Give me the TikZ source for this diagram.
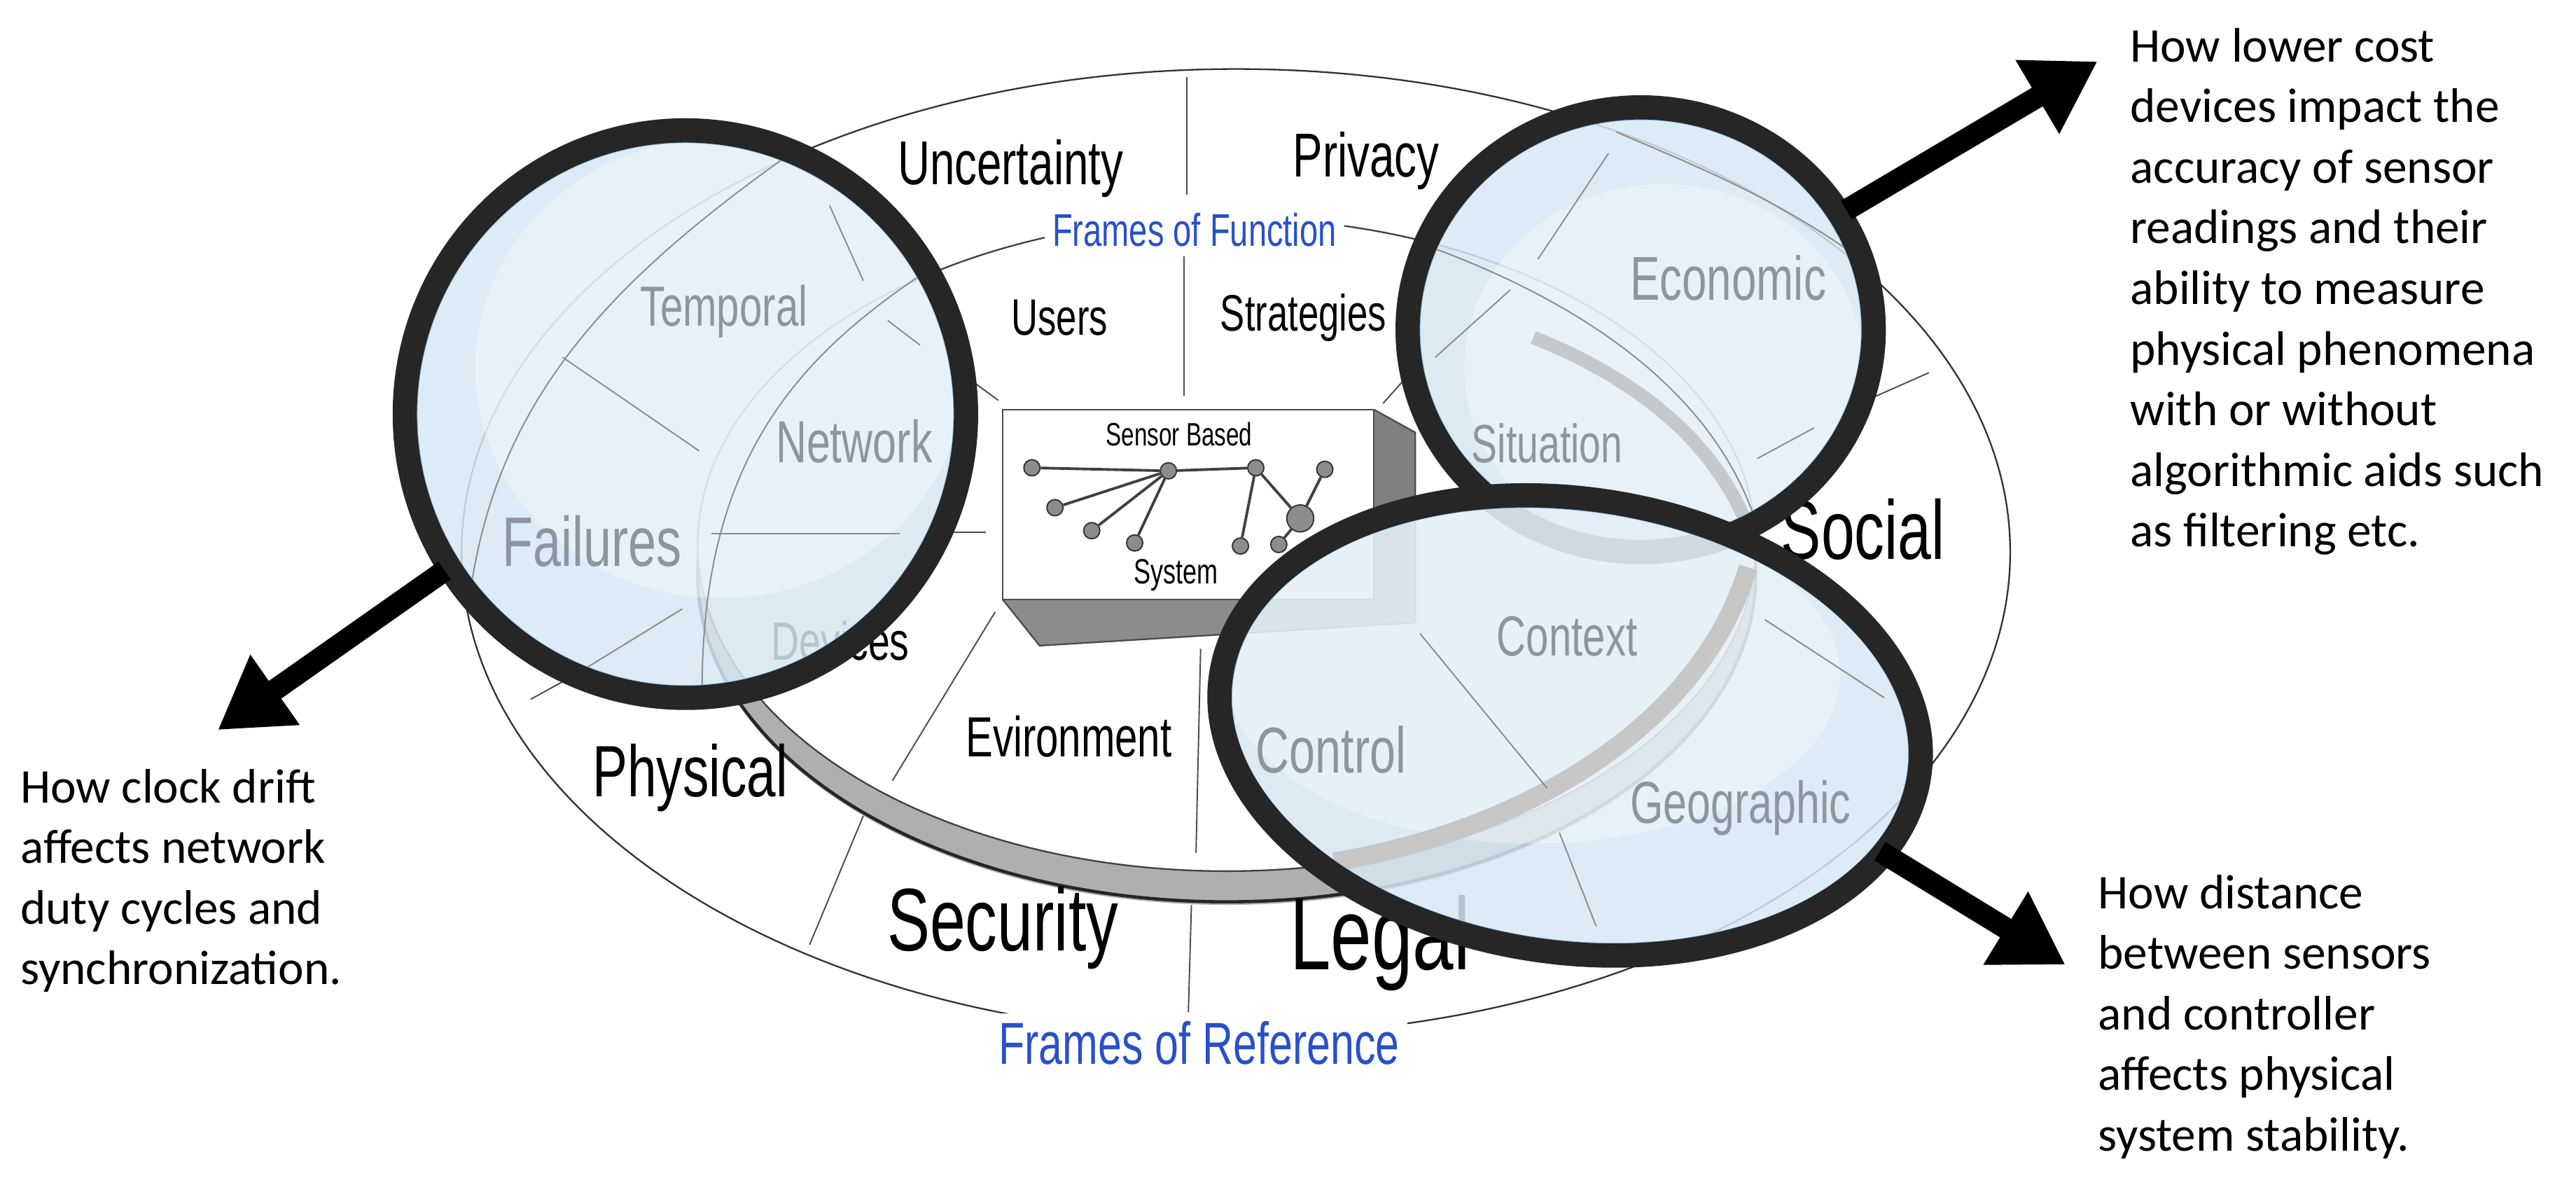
\documentclass[tikz,border=0pt]{standalone}
\usepackage{fontspec}
\usetikzlibrary{arrows.meta}
\setmainfont{Carlito}
\newfontfamily\agency{Liberation Sans}[FakeStretch=0.72]
\definecolor{lensfill}{RGB}{214,231,243}
\definecolor{lensedge}{RGB}{140,190,225}
\definecolor{lenstext}{RGB}{140,150,160}
\definecolor{frameblue}{RGB}{40,80,200}
\definecolor{rimgray}{RGB}{175,175,175}
\tikzset{
  lbl/.style={font=\agency, inner sep=1pt},
  lt/.style={lbl, text=lenstext},
  frame/.style={font=\agency\fontsize{17}{17}\selectfont, text=frameblue, fill=white, inner sep=3pt},
  div/.style={draw=black!70, line width=0.5pt},
  ldiv/.style={draw=black!45, line width=0.5pt},
  lensfillst/.style={fill=lensfill, fill opacity=0.85},
  ring/.style={draw=black!85, line width=9pt},
  ringin/.style={draw=lensedge, line width=1.5pt},
  bigarrow/.style={line width=8pt, -{Triangle[length=26pt,width=30pt]}},
  note/.style={font=\fontsize{18}{22.5}\selectfont, align=left, anchor=north west, inner sep=0pt},
  snode/.style={circle, draw=black!80, fill=black!45, minimum size=6pt, inner sep=0pt, line width=0.5pt},
  sedge/.style={draw=black!75, line width=1pt},
}
\begin{document}
\begin{tikzpicture}[x=0.02cm,y=-0.02cm]
\useasboundingbox (0,0) rectangle (1680,768);
% outer ellipse
\draw[black!80, line width=0.6pt] (806,360) ellipse [x radius=505, y radius=315];
% disk side and top
\fill[rimgray] (800,377) ellipse [x radius=345, y radius=213];
\draw[black!85, line width=1.2pt] (800,375) ellipse [x radius=345, y radius=213];
\filldraw[fill=white, draw=black!75, line width=0.6pt] (800,355) ellipse [x radius=345, y radius=213];
% divider lines
\draw[div] (774,50) -- (774,127);
\draw[div] (772,167) -- (772,258);
\draw[div] (632,247) -- (651,261);
\draw[div] (619,347) -- (643,347);
\draw[div] (902,263) -- (918,245);
\draw[div] (1215,262) -- (1258,243);
\draw[div] (649,399) -- (582,509);
\draw[div] (563,532) -- (528,616);
\draw[div] (783,423) -- (780,556);
\draw[div] (777,590) -- (775,660);
\draw[div] (346,456) -- (375,440);
% frame labels
\node[frame] (fof) at (779,150) {Frames of Function};
\node[frame, font=\agency\fontsize{22}{22}\selectfont] (for) at (782,680) {Frames of Reference};
% black labels
\node[lbl, font=\agency\fontsize{23}{23}\selectfont] (unc) at (659,110) {Uncertainty};
\node[lbl, font=\agency\fontsize{23}{23}\selectfont] (pri) at (891,105) {Privacy};
\node[lbl, font=\agency\fontsize{19}{19}\selectfont] (usr) at (691,207) {Users};
\node[lbl, font=\agency\fontsize{19}{19}\selectfont] (str) at (850,207) {Strategies};
\node[lbl, font=\agency\fontsize{31}{31}\selectfont] (soc) at (1215,345) {Social};
\node[lbl, font=\agency\fontsize{20}{20}\selectfont] (dev) at (548,418) {Devices};
\node[lbl, font=\agency\fontsize{21}{21}\selectfont] (evi) at (697,480) {Evironment};
\node[lbl, font=\agency\fontsize{27}{27}\selectfont] (phy) at (450,507) {Physical};
\node[lbl, font=\agency\fontsize{33}{33}\selectfont] (sec) at (654,605) {Security};
\node[lbl, font=\agency\fontsize{38}{38}\selectfont] (leg) at (900,615) {Legal};
% sensor box
\fill[black!50] (896,267) -- (923,282) -- (923,406) -- (896,391) -- cycle;
\fill[black!45] (654,391) -- (896,391) -- (923,406) -- (678,421) -- cycle;
\draw[black!70, line width=0.6pt] (896,267) -- (923,282) -- (923,406) -- (678,421) -- (654,391);
\draw[black!70, line width=0.6pt, fill=white] (654,267) rectangle (896,391);
\node[lbl, font=\agency\fontsize{12}{12}\selectfont] (sb) at (769,283) {Sensor Based};
\node[lbl, font=\agency\fontsize{13}{13}\selectfont] (sy) at (767,375) {System};
\node[snode] (n1) at (673,305) {};
\node[snode] (n2) at (762,307) {};
\node[snode] (n3) at (819,305) {};
\node[snode] (n4) at (688,331) {};
\node[snode] (n5) at (712,346) {};
\node[snode] (n6) at (740,354) {};
\node[snode] (n7) at (809,356) {};
\node[snode] (n8) at (834,355) {};
\node[snode, minimum size=10pt] (n9) at (848,338) {};
\node[snode] (n10) at (864,306) {};
\draw[sedge] (n1) -- (n2) -- (n3);
\draw[sedge] (n2) -- (n4);
\draw[sedge] (n2) -- (n5);
\draw[sedge] (n2) -- (n6);
\draw[sedge] (n3) -- (n7);
\draw[sedge] (n3) -- (n9);
\draw[sedge] (n9) -- (n10);
\draw[sedge] (n9) -- (n8);
% ===== left lens
\coordinate (LL) at (447,270);
\fill[lensfillst] (LL) ellipse [x radius=183, y radius=185];
\begin{scope}
\clip (LL) ellipse [x radius=183, y radius=185];
\fill[white, opacity=0.35] (470,240) ellipse [x radius=160, y radius=150];
\draw[ldiv] (530,90) .. controls (400,180) and (320,260) .. (305,400);
\draw[ldiv] (615,170) .. controls (520,230) and (455,300) .. (458,460);
\draw[ldiv] (367,233) -- (456,294);
\draw[ldiv] (464,348) -- (587,348);
\draw[ldiv] (541,134) -- (563,183);
\draw[ldiv] (579,209) -- (600,225);
\draw[ldiv] (445,397) -- (375,440);
\end{scope}
\node[lt, font=\agency\fontsize{21}{21}\selectfont] (tem) at (472,203) {Temporal};
\node[lt, font=\agency\fontsize{22}{22}\selectfont] (net) at (557,288) {Network};
\node[lt, font=\agency\fontsize{26}{26}\selectfont] (fai) at (386,353) {Failures};
\draw[ringin] (LL) ellipse [x radius=176, y radius=178];
\draw[ring] (LL) ellipse [x radius=183, y radius=185];
% ===== top-right lens
\coordinate (TR) at (1070,215);
\fill[lensfillst] (TR) ellipse [x radius=152, y radius=145];
\begin{scope}
\clip (TR) ellipse [x radius=152, y radius=145];
\fill[white, opacity=0.35] (1085,240) ellipse [x radius=130, y radius=120];
\draw[ldiv] (1054,86) .. controls (1110,110) and (1160,130) .. (1215,170);
\draw[ldiv] (930,160) .. controls (1040,200) and (1120,260) .. (1146,343);
\draw[rimgray, line width=5pt, opacity=0.6] (1000,220) .. controls (1100,260) and (1140,320) .. (1150,380);
\draw[ldiv] (1049,100) -- (1003,169);
\draw[ldiv] (985,189) -- (936,233);
\draw[ldiv] (1183,279) -- (1146,299);
\end{scope}
\node[lt, font=\agency\fontsize{23}{23}\selectfont] (eco) at (1127,181) {Economic};
\node[lt, font=\agency\fontsize{20}{20}\selectfont] (sit) at (1009,289) {Situation};
\draw[ringin] (TR) ellipse [x radius=145, y radius=138];
\draw[ring] (TR) ellipse [x radius=152, y radius=145];
% ===== bottom-right lens
\coordinate (BR) at (1024,473);
\fill[lensfillst, rotate around={-8:(BR)}] (BR) ellipse [x radius=230, y radius=148];
\begin{scope}
\clip[rotate around={-8:(BR)}] (BR) ellipse [x radius=230, y radius=148];
\fill[white, opacity=0.3] (1000,440) ellipse [x radius=200, y radius=110];
\draw[rimgray!70, line width=7pt] (1140,370) .. controls (1110,470) and (1000,540) .. (870,562);
\draw[ldiv] (926,413) -- (1009,514);
\draw[ldiv] (1017,543) -- (1041,604);
\draw[ldiv] (1151,404) -- (1229,455);
\draw[ldiv] (900,590) -- (900,620);
\end{scope}
\node[lt, font=\agency\fontsize{21}{21}\selectfont] (con) at (1022,415) {Context};
\node[lt, font=\agency\fontsize{24}{24}\selectfont] (ctl) at (868,489) {Control};
\node[lt, font=\agency\fontsize{22}{22}\selectfont] (geo) at (1135,527) {Geographic};
\draw[ringin, rotate around={-8:(BR)}] (BR) ellipse [x radius=223, y radius=141];
\draw[ring, rotate around={-8:(BR)}] (BR) ellipse [x radius=230, y radius=148];
% ===== arrows
\coordinate (lt) at (142,476);
\coordinate (ls) at (290,372);
\coordinate (tt) at (1368,40);
\coordinate (ts) at (1204,137);
\coordinate (bt) at (1347,629);
\coordinate (bs) at (1226,555);
\draw[bigarrow] (ls) -- (lt);
\draw[bigarrow] (ts) -- (tt);
\draw[bigarrow] (bs) -- (bt);
% ===== notes
\node[note] (n-tr) at (1389,18) {How lower cost\\devices impact the\\accuracy of sensor\\readings and their\\ability to measure\\physical phenomena\\with or without\\algorithmic aids such\\as filtering etc.};
\node[note] (n-l) at (13,501) {How clock drift\\affects network\\duty cycles and\\synchronization.};
\node[note] (n-br) at (1368,570) {How distance\\between sensors\\and controller\\affects physical\\system stability.};
\end{tikzpicture}
\end{document}
